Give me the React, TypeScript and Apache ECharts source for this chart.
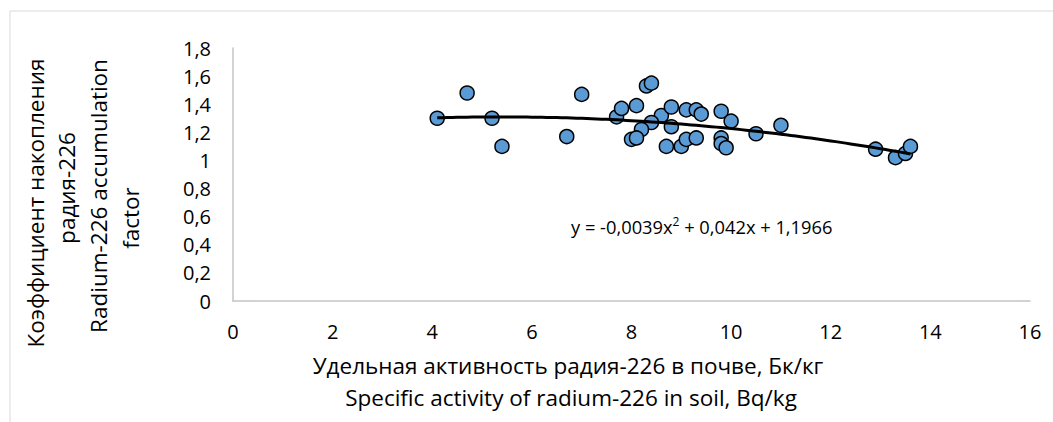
import React, { useEffect, useRef } from "react";
import * as echarts from "echarts";

const soilActivity = [
  4.1, 4.7, 5.2, 5.4, 6.7, 7.0, 7.7, 7.8, 8.1, 8.3, 8.4, 8.6, 8.8, 8.4, 8.2, 8.0, 8.1, 8.8,
  8.7, 9.0, 9.1, 9.3, 9.1, 9.3, 9.4, 9.8, 10.0, 9.8, 9.8, 9.9, 10.5, 11.0, 12.9, 13.3, 13.5, 13.6,
];
const accumulationFactor = [
  1.3, 1.48, 1.3, 1.1, 1.17, 1.47, 1.31, 1.37, 1.39, 1.53, 1.55, 1.32, 1.38, 1.27, 1.22, 1.15, 1.16, 1.24,
  1.1, 1.1, 1.15, 1.16, 1.36, 1.36, 1.33, 1.35, 1.28, 1.16, 1.12, 1.09, 1.19, 1.25, 1.08, 1.02, 1.05, 1.1,
];
// Trend line coefficients as printed on the chart: y = a x^2 + b x + c
const trendA = -0.0039;
const trendB = 0.042;
const trendC = 1.1966;
const trendRange = [4.1, 13.6];

const xTicks = { min: 0, max: 16, interval: 2 };
const yTicks = { min: 0, max: 1.8, interval: 0.2 };

const yTitleLines = ["Коэффициент накопления", "радия-226", "Radium-226 accumulation", "factor"];
const xTitleLines = ["Удельная активность радия-226 в почве, Бк/кг", "Specific activity of radium-226 in soil, Bq/kg"];

const FONT = "'Open Sans', sans-serif";

export default function App() {
  const ref = useRef<HTMLDivElement>(null);
  useEffect(() => {
    if (!ref.current) return;
    const chart = echarts.init(ref.current, null, { renderer: "svg" });
    const points = soilActivity.map((x, i) => [x, accumulationFactor[i]]);
    const trend: number[][] = [];
    for (let x = trendRange[0]; x <= trendRange[1] + 1e-9; x += 0.1) {
      const xv = Math.round(x * 100) / 100;
      trend.push([xv, trendA * xv * xv + trendB * xv + trendC]);
    }
    const fmt = (v: number) => String(+v.toFixed(1)).replace(".", ",");
    const yCenters = [203, 188, 196, 218];
    const yXs = [35, 66, 98, 130];
    chart.setOption({
      animation: false,
      backgroundColor: "#ffffff",
      grid: { left: 233, top: 48, right: 23, bottom: 121, containLabel: false },
      xAxis: {
        type: "value",
        min: xTicks.min,
        max: xTicks.max,
        interval: xTicks.interval,
        axisLine: { show: true, lineStyle: { color: "#C4C4C4", width: 1.5 } },
        axisTick: { show: false },
        splitLine: { show: false },
        axisLabel: { color: "#000", fontSize: 20, fontFamily: FONT, margin: 20, formatter: fmt },
      },
      yAxis: {
        type: "value",
        min: yTicks.min,
        max: yTicks.max,
        interval: yTicks.interval,
        axisLine: { show: true, lineStyle: { color: "#C4C4C4", width: 1.5 } },
        axisTick: { show: false },
        splitLine: { show: false },
        axisLabel: { color: "#000", fontSize: 20, fontFamily: FONT, margin: 22, formatter: fmt },
      },
      series: [
        {
          type: "scatter",
          data: points,
          symbol: "circle",
          symbolSize: 14,
          itemStyle: { color: "#5B9BD5", borderColor: "#000", borderWidth: 1.5, opacity: 1 },
          z: 2,
        },
        {
          type: "line",
          data: trend,
          showSymbol: false,
          symbol: "none",
          lineStyle: { color: "#000", width: 3 },
          z: 3,
        },
      ],
      graphic: [
        {
          type: "rect",
          shape: { x: 10, y: 11, width: 1200, height: 600 },
          style: { fill: "none", stroke: "#D9D9D9", lineWidth: 1 },
          z: -10,
        },
        ...yTitleLines.map((t, i) => ({
          type: "text",
          x: yXs[i],
          y: yCenters[i],
          rotation: Math.PI / 2,
          style: {
            text: t,
            fill: "#000",
            fontSize: 22.5,
            fontFamily: FONT,
            textAlign: "center",
            textVerticalAlign: "middle",
          },
        })),
        {
          type: "text",
          x: 568,
          y: 365,
          style: { text: xTitleLines[0], fill: "#000", fontSize: 22.5, fontFamily: FONT, textAlign: "center", textVerticalAlign: "middle" },
        },
        {
          type: "text",
          x: 571,
          y: 397,
          style: { text: xTitleLines[1], fill: "#000", fontSize: 22.5, fontFamily: FONT, textAlign: "center", textVerticalAlign: "middle" },
        },
        {
          type: "text",
          x: 571,
          y: 226,
          style: {
            text: "{n|y = -0,0039x}{s|2}{n| + 0,042x + 1,1966}",
            textVerticalAlign: "middle",
            rich: {
              n: { fontSize: 18.3, fontFamily: FONT, fill: "#000", color: "#000" },
              s: { fontSize: 12, fontFamily: FONT, fill: "#000", color: "#000", padding: [0, 0, 10, 0] },
            },
          },
        },
      ],
    });
    return () => chart.dispose();
  }, []);
  return (
    <div
      ref={ref}
      style={{ position: "absolute", left: 0, top: 0, width: 1053, height: 422 }}
    />
  );
}
